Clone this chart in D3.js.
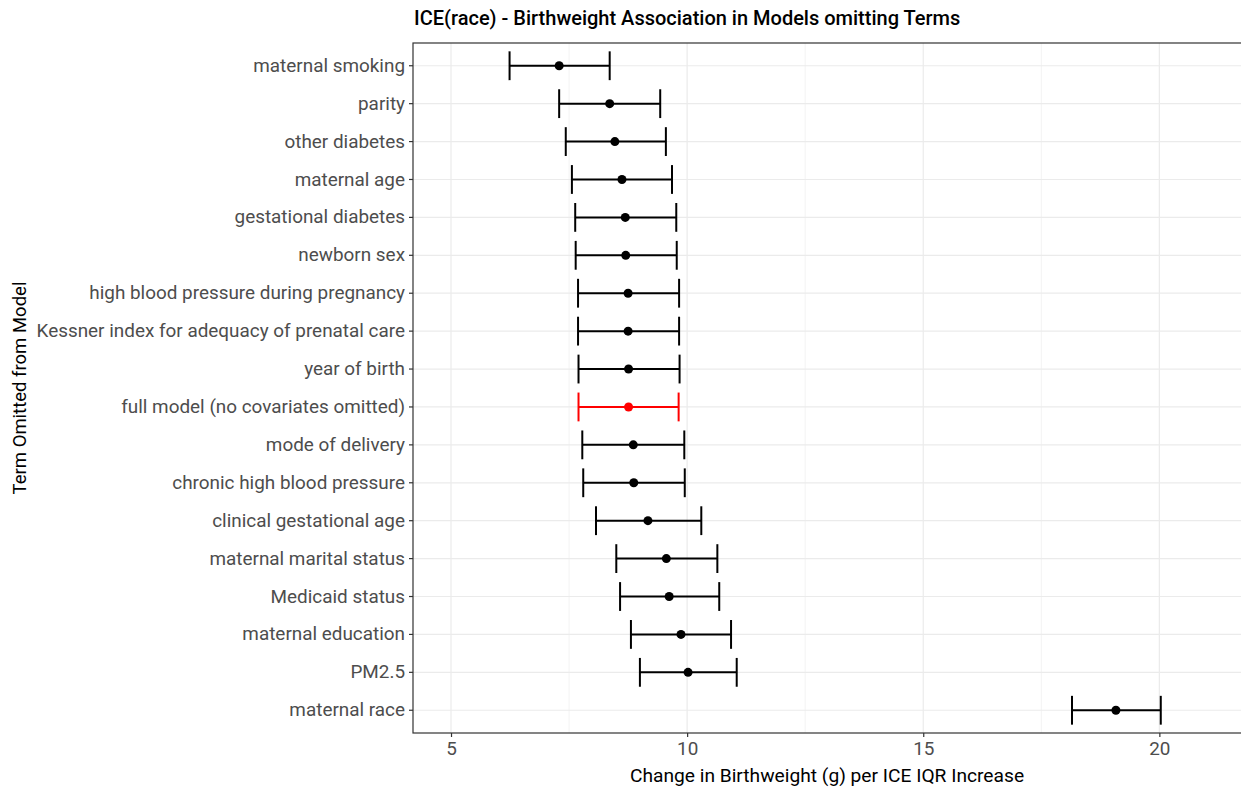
<!DOCTYPE html>
<html>
<head>
<meta charset="utf-8">
<script src="https://cdn.jsdelivr.net/npm/d3@7"></script>
<style>
  body { margin: 0; background: #fff; }
  svg { display: block; font-family: Roboto, "Liberation Sans", sans-serif; }
</style>
</head>
<body>
<div id="chart"></div>
<script>
// terms omitted, top to bottom
const terms = [
  "maternal smoking", "parity", "other diabetes", "maternal age",
  "gestational diabetes", "newborn sex", "high blood pressure during pregnancy",
  "Kessner index for adequacy of prenatal care", "year of birth",
  "full model (no covariates omitted)", "mode of delivery",
  "chronic high blood pressure", "clinical gestational age",
  "maternal marital status", "Medicaid status", "maternal education",
  "PM2.5", "maternal race"
];
const estimate = [7.29, 8.36, 8.47, 8.62, 8.69, 8.70, 8.75, 8.75, 8.76, 8.76, 8.86, 8.87, 9.17, 9.56, 9.62, 9.87, 10.02, 19.08];
const lower    = [6.24, 7.29, 7.43, 7.56, 7.63, 7.64, 7.69, 7.69, 7.70, 7.70, 7.78, 7.80, 8.07, 8.50, 8.58, 8.81, 9.00, 18.15];
const upper    = [8.36, 9.43, 9.55, 9.68, 9.77, 9.78, 9.83, 9.83, 9.84, 9.82, 9.94, 9.95, 10.30, 10.64, 10.68, 10.93, 11.05, 20.03];
const xTicks = [5, 10, 15, 20];
const xMinor = [7.5, 12.5, 17.5];
const fullModel = "full model (no covariates omitted)";

const W = 1241, H = 789;
const panel = { left: 413, top: 43, right: 1242, bottom: 733 };

const svg = d3.select("#chart").append("svg")
  .attr("width", W).attr("height", H);

const x = d3.scaleLinear().domain([4.195, 21.75]).range([panel.left, panel.right]);
const y = d3.scaleBand().domain(terms).range([panel.top, panel.bottom]).padding(0).paddingOuter(0.1);
const yc = d => y(d) + y.bandwidth() / 2;

const rows = terms.map((t, i) => ({ term: t, est: estimate[i], lo: lower[i], hi: upper[i] }));

// grid
const grid = svg.append("g");
grid.selectAll("line.minor").data(xMinor).join("line")
  .attr("x1", d => x(d)).attr("x2", d => x(d))
  .attr("y1", panel.top).attr("y2", panel.bottom)
  .attr("stroke", "#f3f3f3").attr("stroke-width", 1);
grid.selectAll("line.major").data(xTicks).join("line")
  .attr("x1", d => x(d)).attr("x2", d => x(d))
  .attr("y1", panel.top).attr("y2", panel.bottom)
  .attr("stroke", "#ebebeb").attr("stroke-width", 1.2);
grid.selectAll("line.h").data(terms).join("line")
  .attr("x1", panel.left).attr("x2", panel.right)
  .attr("y1", d => yc(d)).attr("y2", d => yc(d))
  .attr("stroke", "#ebebeb").attr("stroke-width", 1.2);

// error bars
const cap = y.bandwidth() * 0.38;
const bars = svg.append("g").selectAll("g").data(rows).join("g")
  .attr("stroke", d => d.term === fullModel ? "#ff0000" : "#000")
  .attr("stroke-width", 2);
bars.append("line")
  .attr("x1", d => x(d.lo)).attr("x2", d => x(d.hi))
  .attr("y1", d => yc(d.term)).attr("y2", d => yc(d.term));
bars.append("line")
  .attr("x1", d => x(d.lo)).attr("x2", d => x(d.lo))
  .attr("y1", d => yc(d.term) - cap).attr("y2", d => yc(d.term) + cap);
bars.append("line")
  .attr("x1", d => x(d.hi)).attr("x2", d => x(d.hi))
  .attr("y1", d => yc(d.term) - cap).attr("y2", d => yc(d.term) + cap);
svg.append("g").selectAll("circle").data(rows).join("circle")
  .attr("cx", d => x(d.est)).attr("cy", d => yc(d.term)).attr("r", 4.5)
  .attr("fill", d => d.term === fullModel ? "#ff0000" : "#000");

// panel border
svg.append("rect")
  .attr("x", panel.left).attr("y", panel.top)
  .attr("width", panel.right - panel.left).attr("height", panel.bottom - panel.top)
  .attr("fill", "none").attr("stroke", "#333").attr("stroke-width", 1.2);

// axes
const xAxis = svg.append("g").attr("transform", `translate(0,${panel.bottom})`)
  .call(d3.axisBottom(x).tickValues(xTicks).tickSize(4).tickPadding(5));
const yAxis = svg.append("g").attr("transform", `translate(${panel.left},0)`)
  .call(d3.axisLeft(y).tickSize(4).tickPadding(4));
[xAxis, yAxis].forEach(a => {
  a.select(".domain").remove();
  a.selectAll(".tick line").attr("stroke", "#333").attr("stroke-width", 1.2);
  a.selectAll(".tick text").attr("fill", "#4d4d4d")
    .style("font-family", "Roboto, sans-serif").style("font-size", "18.9px");
});

// titles
svg.append("text")
  .attr("x", panel.left + 1).attr("y", 25)
  .attr("font-size", 20).attr("font-weight", 500).attr("fill", "#000")
  .text("ICE(race) - Birthweight Association in Models omitting Terms");
svg.append("text")
  .attr("x", (panel.left + 1241) / 2).attr("y", 782)
  .attr("text-anchor", "middle").attr("font-size", 19.2).attr("fill", "#000")
  .text("Change in Birthweight (g) per ICE IQR Increase");
svg.append("text")
  .attr("transform", `translate(26,${(panel.top + panel.bottom) / 2}) rotate(-90)`)
  .attr("text-anchor", "middle").attr("font-size", 18.5).attr("fill", "#000")
  .text("Term Omitted from Model");
</script>
</body>
</html>
